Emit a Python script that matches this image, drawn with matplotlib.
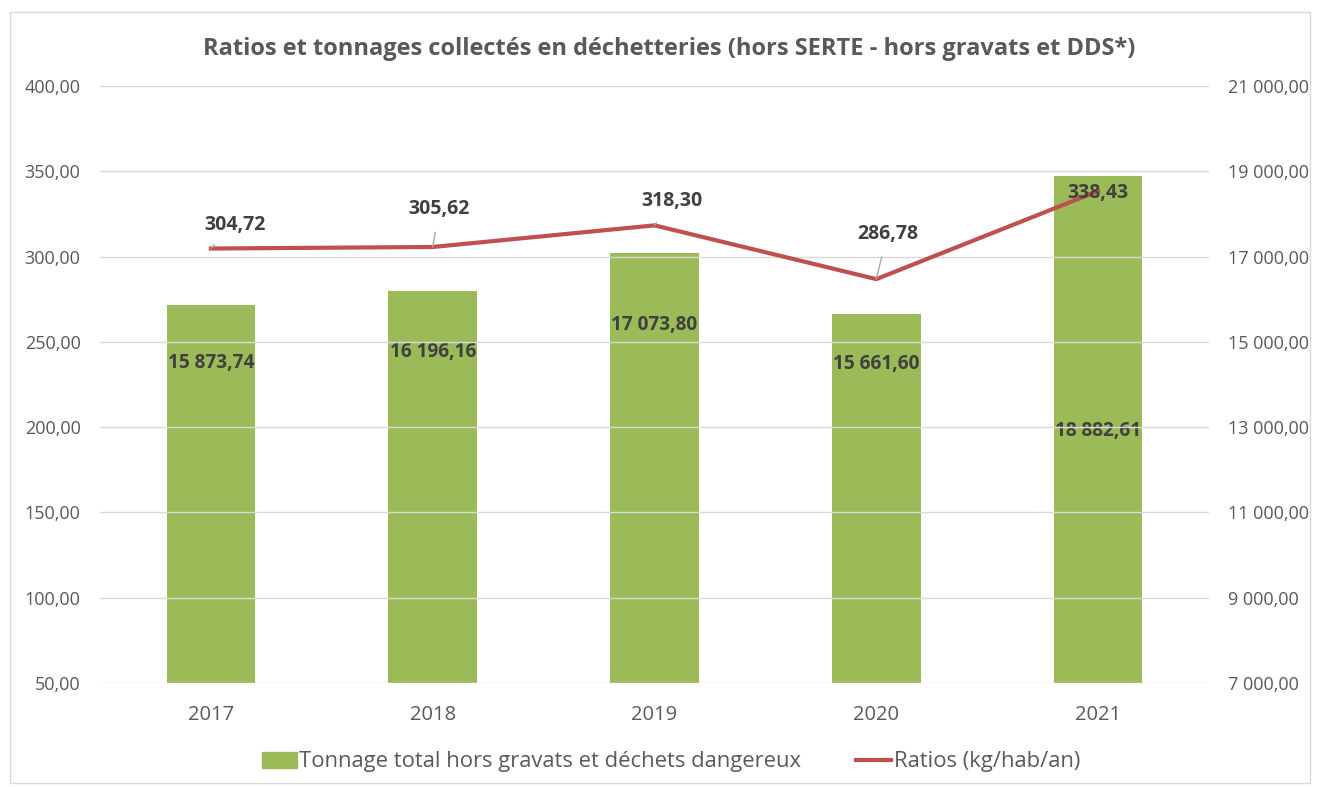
import matplotlib.pyplot as plt
from matplotlib.patches import Rectangle
from matplotlib.lines import Line2D

plt.rcParams["font.family"] = ["Open Sans", "DejaVu Sans"]

years = ["2017", "2018", "2019", "2020", "2021"]
tonnage = [15873.74, 16196.16, 17073.80, 15661.60, 18882.61]
ratios = [304.72, 305.62, 318.30, 286.78, 338.43]

# hand placed label spots, as in the source chart
tonnage_label_y = [14504, 14762, 15395, 14481, 12910]
ratio_label_xy = [(0.11, 318.8), (1.03, 328.1), (2.08, 332.8), (3.05, 313.5), (4.0, 337.5)]
ratio_leader = [True, True, True, True, False]


def fr(v, dec=2):
    s = f"{v:,.{dec}f}"
    return s.replace(",", " ").replace(".", ",")


GREEN = "#9BBB59"
RED = "#C0504D"
GREY = "#595959"
DARK = "#404040"

fig = plt.figure(figsize=(13.18, 7.87), dpi=100)
fig.patches.append(Rectangle((10 / 1318, 4 / 787), 1300 / 1318, 771 / 787,
                             transform=fig.transFigure, fill=False,
                             edgecolor="#D9D9D9", lw=1))

ax = fig.add_axes([100 / 1318, 104 / 787, 1109 / 1318, 597 / 787])
ax2 = ax.twinx()

x = list(range(len(years)))

# bars on the right axis
ax2.bar(x, tonnage, width=0.4, color=GREEN, zorder=2)
ax2.set_ylim(7000, 21000)
ax2.set_yticks(range(7000, 21001, 2000))
ax2.set_yticklabels([fr(v) for v in range(7000, 21001, 2000)])
for i, v in enumerate(tonnage):
    ax2.text(i, tonnage_label_y[i], fr(v), ha="center", va="center",
             fontsize=13.7, fontweight="bold", color=DARK, zorder=5)

# line on the left axis
ax.set_ylim(50, 400)
ax.set_yticks(range(50, 401, 50))
ax.set_yticklabels([fr(v) for v in range(50, 401, 50)])
ax.set_xlim(-0.5, 4.5)
ax.set_xticks(x)
ax.set_xticklabels(years)
ax.yaxis.grid(True, color="#D9D9D9", lw=1)
ax.set_axisbelow(True)

ax.set_zorder(ax2.get_zorder() + 1)
ax.patch.set_visible(False)
ax.plot(x, ratios, color=RED, lw=3, zorder=3)
for i, v in enumerate(ratios):
    lx, ly = ratio_label_xy[i]
    ax.annotate(fr(v), xy=(i, v), xytext=(lx, ly), ha="center", va="center",
                fontsize=14, fontweight="bold", color=DARK, zorder=6,
                arrowprops=dict(arrowstyle="-", color="#A6A6A6", lw=1,
                                shrinkA=8, shrinkB=0) if ratio_leader[i] else None)

for a in (ax, ax2):
    for s in a.spines.values():
        s.set_visible(False)
    a.tick_params(length=0, labelsize=13, labelcolor=GREY)
ax.tick_params(axis="y", pad=14)
ax2.tick_params(axis="y", pad=14)
ax.tick_params(axis="x", pad=16, labelsize=14.5)

fig.text(669 / 1318, 0.938, "Ratios et tonnages collectés en déchetteries (hors SERTE - hors gravats et DDS*)",
         ha="center", va="center", fontsize=17, fontweight="bold", color=GREY)

handles = [Rectangle((0, 0), 1, 1, color=GREEN), Line2D([], [], color=RED, lw=3)]
fig.legend(handles, ["Tonnage total hors gravats et déchets dangereux", "Ratios (kg/hab/an)"],
           loc="center", bbox_to_anchor=(671 / 1318, 25 / 787), ncol=2, frameon=False,
           fontsize=15.8, labelcolor=GREY, handlelength=1.6, handleheight=0.7,
           handletextpad=0.1, columnspacing=2.5)

fig.savefig("out.png", dpi=100)
